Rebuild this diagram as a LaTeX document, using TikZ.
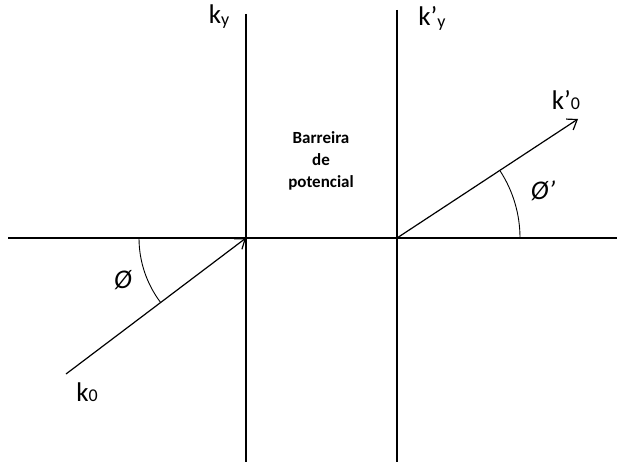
\documentclass[tikz,border=0pt]{standalone}
\usepackage{fontspec}
\setmainfont{Carlito}
\usetikzlibrary{arrows.meta}
\begin{document}
\begin{tikzpicture}[x=1pt,y=-1pt,
  axis/.style={line width=1.8pt},
  vec/.style={line width=1.2pt,-{Straight Barb[length=9pt,width=13pt,line width=1.2pt]}},
  arcline/.style={line width=0.9pt},
  lbl/.style={font=\fontsize{27}{28}\selectfont,inner sep=0pt},
  barr/.style={font=\bfseries\fontsize{17}{22}\selectfont,align=center,inner sep=0pt}]
\useasboundingbox (0,0) rectangle (620,465);
\coordinate (hl) at (8,238);
\coordinate (hr) at (617,238);
\coordinate (v1t) at (246,14);
\coordinate (v1b) at (246,462);
\coordinate (v2t) at (397,10);
\coordinate (v2b) at (397,462);
\coordinate (o1) at (246,238);
\coordinate (o2) at (397,238);
\coordinate (s0) at (66,374);
\coordinate (e0) at (578,119);
\draw[axis] (hl) -- (hr);
\draw[axis] (v1t) -- (v1b);
\draw[axis] (v2t) -- (v2b);
\draw[vec] (s0) -- (o1);
\draw[vec] (o2) -- (e0);
\draw[arcline] (o1) ++(180:107) arc[start angle=180, end angle=143, radius=107];
\draw[arcline] (o2) ++(0:123) arc[start angle=0, end angle=-33, radius=123];
\node[lbl] (ky) at (219,17) {k\raisebox{-2pt}{\fontsize{18}{18}\selectfont y}};
\node[lbl] (kpy) at (432,18) {k’\raisebox{-2pt}{\fontsize{18}{18}\selectfont y}};
\node[lbl] (kp0) at (566,100) {k’\fontsize{18}{18}\selectfont 0};
\node[lbl] (k0) at (87,392) {k\fontsize{18}{18}\selectfont 0};
\node[lbl] (phi) at (123,280) {\itshape Ø};
\node[lbl] (phip) at (543,191) {\itshape Ø’};
\node[barr] (bar) at (321,161) {Barreira\\de\\potencial};
\end{tikzpicture}
\end{document}
